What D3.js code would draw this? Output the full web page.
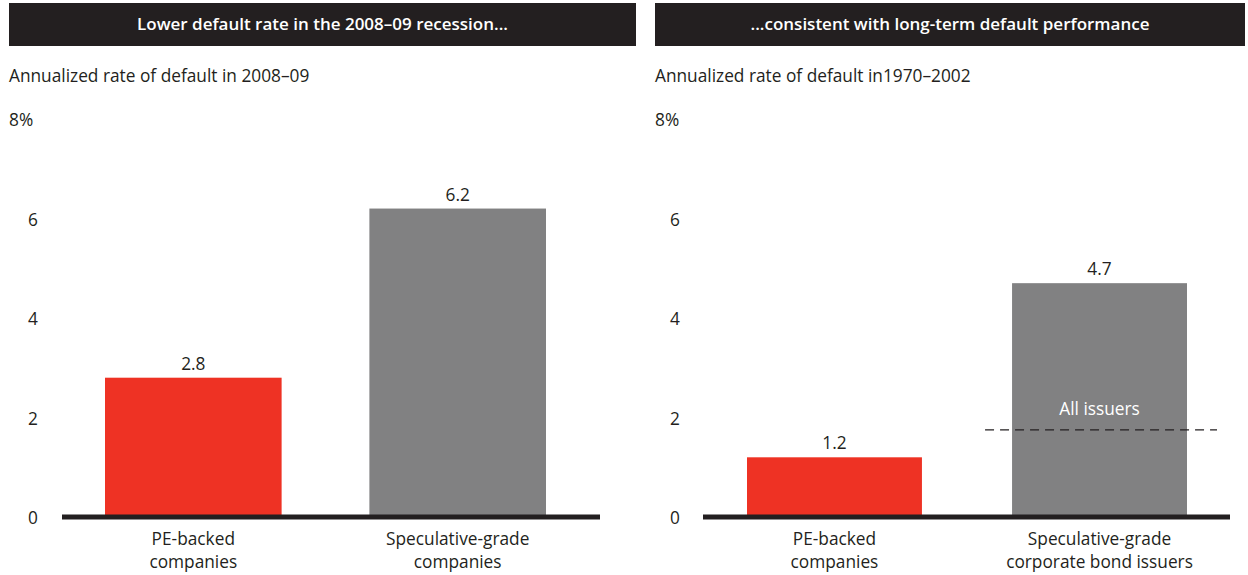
<!DOCTYPE html>
<html><head><meta charset="utf-8">
<script src="https://cdn.jsdelivr.net/npm/d3@7"></script>
<style>body{margin:0;background:#fff}svg{display:block}text{font-family:"Open Sans",Lato,sans-serif}</style>
</head><body><svg id="c" width="1248" height="575"></svg>
<script>
const titles = ["Lower default rate in the 2008–09 recession...", "...consistent with long-term default performance"];
const subtitles = ["Annualized rate of default in 2008–09", "Annualized rate of default in1970–2002"];
const categoriesLeft = [["PE-backed","companies"],["Speculative-grade","companies"]];
const categoriesRight = [["PE-backed","companies"],["Speculative-grade","corporate bond issuers"]];
const valuesLeft = [2.8, 6.2];
const valuesRight = [1.2, 4.7];
const allIssuers = 1.75;
const tickValues = [0, 2, 4, 6, 8];
const colors = ["#ee3224", "#818182"];

const svg = d3.select("#c");
const panels = [
  {x0: 9, x1: 636, axisX0: 62, axisX1: 600, tickX: 33, cats: categoriesLeft, vals: valuesLeft, barRange:[105,546], pad:0.332},
  {x0: 655, x1: 1245, axisX0: 703, axisX1: 1230, tickX: 675, cats: categoriesRight, vals: valuesRight, barRange:[747,1187], pad:0.34}
];
const y = d3.scaleLinear().domain([0, 8]).range([517, 119]);
const fs = 17.3;

panels.forEach((p, i) => {
  const g = svg.append("g");
  g.append("rect").attr("x", p.x0).attr("y", 3).attr("width", p.x1 - p.x0).attr("height", 43).attr("fill", "#231f20");
  g.append("text").attr("x", (p.x0 + p.x1) / 2).attr("y", 30).attr("text-anchor", "middle")
    .attr("fill", "#fff").attr("font-size", 17).attr("font-weight", "600").text(titles[i]);
  g.append("text").attr("x", p.x0).attr("y", 82).attr("font-size", fs).attr("fill", "#231f20").text(subtitles[i]);

  const x = d3.scaleBand().domain(d3.range(p.vals.length)).range(p.barRange).paddingInner(p.pad).paddingOuter(0);
  tickValues.forEach(t => {
    g.append("text").attr("x", t === 8 ? p.x0 : p.tickX).attr("y", y(t) + 7)
      .attr("text-anchor", t === 8 ? "start" : "middle").attr("font-size", fs).attr("fill", "#231f20")
      .text(t === 8 ? "8%" : t);
  });
  g.selectAll(".bar").data(p.vals).enter().append("rect")
    .attr("x", (d, j) => x(j)).attr("width", x.bandwidth())
    .attr("y", d => y(d)).attr("height", d => y(0) - y(d))
    .attr("fill", (d, j) => colors[j]);
  g.selectAll(".val").data(p.vals).enter().append("text")
    .attr("x", (d, j) => x(j) + x.bandwidth() / 2).attr("y", d => y(d) - 8)
    .attr("text-anchor", "middle").attr("font-size", fs).attr("fill", "#231f20")
    .text(d => d.toFixed(1));
  g.append("line").attr("x1", p.axisX0).attr("x2", p.axisX1).attr("y1", y(0)).attr("y2", y(0))
    .attr("stroke", "#231f20").attr("stroke-width", 5);
  p.cats.forEach((c, j) => {
    c.forEach((line, k) => {
      g.append("text").attr("x", x(j) + x.bandwidth() / 2).attr("y", 545 + k * 23)
        .attr("text-anchor", "middle").attr("font-size", fs).attr("fill", "#231f20").text(line);
    });
  });
  if (i === 1) {
    const cx = x(1) + x.bandwidth() / 2;
    g.append("line").attr("x1", x(1) - 27).attr("x2", x(1) + x.bandwidth() + 30)
      .attr("y1", y(allIssuers)).attr("y2", y(allIssuers))
      .attr("stroke", "#231f20").attr("stroke-width", 1.2).attr("stroke-dasharray", "9,6");
    g.append("text").attr("x", cx).attr("y", y(allIssuers) - 15).attr("text-anchor", "middle")
      .attr("font-size", fs).attr("fill", "#fff").text("All issuers");
  }
});
</script></body></html>
